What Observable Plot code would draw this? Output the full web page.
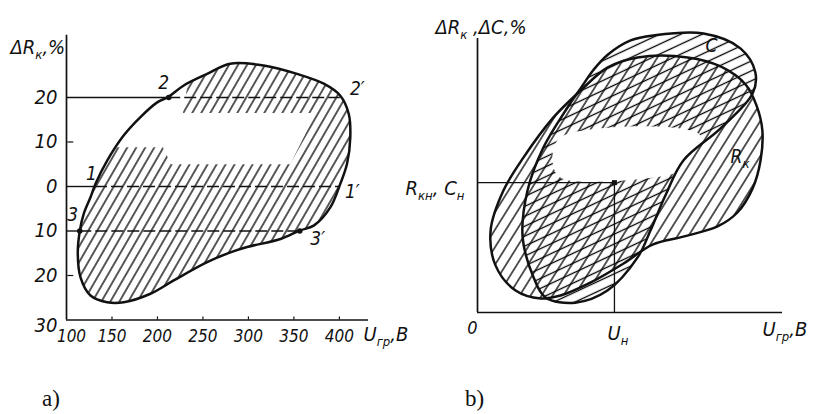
<!DOCTYPE html>
<html><head><meta charset="utf-8">
<script src="https://cdn.jsdelivr.net/npm/d3@7"></script>
<script src="https://cdn.jsdelivr.net/npm/@observablehq/plot@0.6"></script>
<style>
body{margin:0;background:#fff;}
#wrap{position:relative;width:813px;height:414px;overflow:hidden;background:#fff}
#pa{position:absolute;left:0;top:0}
#pb{position:absolute;left:380px;top:0}
.cap{position:absolute;font-family:"Liberation Serif","DejaVu Serif",serif;font-size:23px;color:#111;line-height:1}
</style></head><body>
<div id="wrap"><div id="pa"></div><div id="pb"></div>
<div class="cap" style="left:42px;top:387px">a)</div>
<div class="cap" style="left:465px;top:387px">b)</div></div>
<script>
// ---------------- Panel a data (U_gr, V ; ΔR_k, %) ----------------
const aU = [131.9,144.7,163,181.3,199.7,212.4,228.9,254.6,280,316.8,353.5,382.8,401,410.3,412,408.4,401,390,371.8,356.4,335.2,298.6,280.2,254.6,217.9,192.3,163,144.7,126.4,115.4,112.4,114.6,119,126.4];
const aR = [0.6,5.8,11.5,15.6,18.9,20.2,22.7,25.3,27.6,27.2,25.3,23.1,20.4,16.3,11.1,5.1,0.6,-4.7,-8.8,-9.9,-11.8,-13.6,-14.8,-17,-21.1,-24.1,-26,-26,-24.5,-20.4,-15.1,-10,-6.1,-2.4];
const aHoleU = [105,206,215,346,374,228,234,190,105];
const aHoleR = [8.8,8.8,5,5,16.5,16.5,24,24,16.5];
const levelR = [20, 0, -10];
const levelLeftU = [212.4, 131.9, 114.6];
const levelRightU = [401, 401, 356.4];
const leftNames = ["2", "1", "3"];
const rightNames = ["2′", "1′", "3′"];
const dotU = [212.4, 114.6, 356.4];
const dotR = [20, -10, -10];
const aTicksR = [20, 10, 0, -10, -20, -30];
const aTicksU = [100, 150, 200, 250, 300, 350, 400];
const aXDom = [100, 432];
const aYDom = [-30, 34];

// ---------------- Panel b data (relative units) ----------------
const rkX = [33.8,42.6,52.5,68.9,79.7,87.9,91.5,93.4,92.8,90.2,85.2,78.7,67.5,57.4,47.9,37.0,27.2,20.7,12.5,5.9,4.3,8.5,15.1,24.9];
const rkY = [81.0,89.4,93.1,93.1,89.8,83.2,75.5,66.4,55.5,45.3,36.5,31.4,27.7,24.8,17.9,10.9,6.2,5.1,8.0,17.2,29.9,44.5,56.6,71.2];
const cX = [33.8,38.0,42.6,50.2,57.7,74.1,86.2,91.1,90.2,79.7,67.5,61.6,56.7,52.5,42.6,32.1,22.3,18.4,14.8,16.4,21.6,29.5];
const cY = [81.8,88.5,94.0,99.3,101.1,101.8,96.4,87.6,79.9,67.2,55.5,42.7,29.9,20.1,8.0,3.6,5.5,12.8,27.4,44.5,60.2,74.8];
const bHoleX = [27.2,73.1,65.9,60.0,27.2,24.6];
const bHoleY = [63.9,64.6,51.8,49.6,49.3,55.5];
const nomU = [44.9];
const nomR = [47.4];
const bDom = [0, 100];

// ---------------- styling ----------------
const F = '"Liberation Sans Narrow","DejaVu Sans Condensed","DejaVu Sans",sans-serif';
const ink = "#111";
const T = (data, o) => Plot.text(data, {fontFamily: F, fontStyle: "italic", fill: ink, ...o});

function addPatterns(svg, defs) {
  const d = d3.select(svg).insert("defs", ":first-child");
  for (const p of defs) {
    const pat = d.append("pattern").attr("id", p.id).attr("patternUnits", "userSpaceOnUse")
      .attr("width", p.gap).attr("height", 20).attr("patternTransform", `rotate(${p.rot})`);
    pat.append("line").attr("x1", p.gap / 2).attr("x2", p.gap / 2).attr("y1", -2).attr("y2", 22)
      .attr("stroke", "#000").attr("stroke-width", p.w);
  }
}
// turn "X_{sub}" in text marks into subscript tspans
function richText(svg) {
  d3.select(svg).selectAll("text").each(function() {
    const s = this.textContent;
    if (!s.includes("_{")) return;
    const parts = s.split(/(_\{[^}]*\})/).filter(p => p.length);
    this.textContent = "";
    let down = false;
    for (const p of parts) {
      const isSub = p.startsWith("_{");
      const t = d3.select(this).append("tspan").text(isSub ? p.slice(2, -1) : p);
      if (isSub) { t.attr("font-size", 13); if (!down) t.attr("dy", 5); down = true; }
      else if (down) { t.attr("dy", -5); down = false; }
    }
  });
}

// ---------------- Panel a ----------------
const pa = Plot.plot({
  width: 420, height: 350,
  marginLeft: 66, marginRight: 52, marginTop: 34.7, marginBottom: 30.5,
  x: {domain: aXDom, axis: null},
  y: {domain: aYDom, axis: null},
  style: {background: "white", overflow: "visible"},
  marks: [
    Plot.line(aU, {x: aU, y: aR, curve: "catmull-rom-closed", fill: "url(#hatchA)", stroke: "none"}),
    Plot.line(aHoleU, {x: aHoleU, y: aHoleR, curve: "linear-closed", fill: "white", stroke: "none"}),
    Plot.ruleX([aXDom[0]], {y1: aYDom[0], y2: aYDom[1], stroke: ink, strokeWidth: 1.7}),
    Plot.ruleY([aYDom[0]], {x1: aXDom[0], x2: aXDom[1], stroke: ink, strokeWidth: 1.7}),
    Plot.ruleX(aTicksU.slice(1), {y1: aYDom[0], y2: aYDom[0] + 0.7, stroke: ink, strokeWidth: 1.2}),
    Plot.ruleY(aTicksR.filter(d => !levelR.includes(d) && d !== aYDom[0]), {x1: aXDom[0] + 1.5, x2: aXDom[0] + 8, stroke: ink, strokeWidth: 1.2}),
    Plot.ruleY(levelR, {x1: aXDom[0], x2: levelLeftU, stroke: ink, strokeWidth: 1.4}),
    Plot.ruleY(levelR, {x1: levelLeftU, x2: levelRightU, stroke: ink, strokeWidth: 1.4, strokeDasharray: "12,4"}),
    Plot.line(aU, {x: aU, y: aR, curve: "catmull-rom-closed", stroke: ink, strokeWidth: 2.5}),
    Plot.dot(dotU, {x: dotU, y: dotR, r: 2.8, fill: ink, stroke: "none"}),
    // y tick labels (magnitudes)
    T(aTicksR.filter(d => d !== aYDom[0]), {x: aXDom[0], y: d => d, text: d => String(Math.abs(d)), textAnchor: "end", dx: -9, fontSize: 20}),
    T([aYDom[0]], {x: aXDom[0], y: d => d, text: d => String(Math.abs(d)), textAnchor: "end", dx: -9, dy: 6, fontSize: 20}),
    // x tick labels
    T(aTicksU.slice(1), {x: d => d, y: aYDom[0], text: d => String(d), dy: 17, fontSize: 17}),
    T(aTicksU.slice(0, 1), {x: d => d, y: aYDom[0], text: d => String(d), dx: 5, dy: 17, fontSize: 17}),
    // point labels
    T([0], {x: levelLeftU[0], y: levelR[0], text: () => leftNames[0], dx: -5, dy: -15, fontSize: 19}),
    T([0], {x: levelLeftU[1], y: levelR[1], text: () => leftNames[1], dx: -4, dy: -13, fontSize: 19}),
    T([0], {x: levelLeftU[2], y: levelR[2], text: () => leftNames[2], dx: -7, dy: -16, fontSize: 19}),
    T([0], {x: levelRightU[0], y: levelR[0], text: () => rightNames[0], dx: 17, dy: -9, fontSize: 19}),
    T([0], {x: levelRightU[1], y: levelR[1], text: () => rightNames[1], dx: 12, dy: 5, fontSize: 19}),
    T([0], {x: levelRightU[2], y: levelR[2], text: () => rightNames[2], dx: 18, dy: 8, fontSize: 19}),
    // axis titles
    T(["ΔR_{к},%"], {x: aXDom[0], y: aYDom[1], textAnchor: "start", dx: -56, dy: 12, fontSize: 20}),
    T(["U_{гр},В"], {x: aXDom[1], y: aYDom[0], textAnchor: "start", dx: -5, dy: 15, fontSize: 20})
  ]
});
addPatterns(pa, [{id: "hatchA", gap: 7.8, rot: 30, w: 1.3}]);
richText(pa);
document.getElementById("pa").appendChild(pa);

// ---------------- Panel b ----------------
const pb = Plot.plot({
  width: 433, height: 350,
  marginLeft: 97, marginRight: 31, marginTop: 38, marginBottom: 38,
  x: {domain: bDom, axis: null},
  y: {domain: bDom, axis: null},
  style: {background: "none", overflow: "visible"},
  marks: [
    Plot.line(rkX, {x: rkX, y: rkY, curve: "catmull-rom-closed", fill: "url(#hatchRK)", stroke: "none"}),
    Plot.line(cX, {x: cX, y: cY, curve: "catmull-rom-closed", fill: "url(#hatchC)", stroke: "none"}),
    Plot.line(bHoleX, {x: bHoleX, y: bHoleY, curve: "catmull-rom-closed", fill: "white", stroke: "none"}),
    Plot.ruleX([bDom[0]], {y1: bDom[0], y2: bDom[1], stroke: ink, strokeWidth: 1.7}),
    Plot.ruleY([bDom[0]], {x1: bDom[0], x2: bDom[1], stroke: ink, strokeWidth: 1.7}),
    Plot.ruleY(nomR, {x1: bDom[0], x2: nomU, stroke: ink, strokeWidth: 1.3}),
    Plot.ruleX(nomU, {y1: bDom[0], y2: nomR, stroke: ink, strokeWidth: 1.3}),
    Plot.line(rkX, {x: rkX, y: rkY, curve: "catmull-rom-closed", stroke: ink, strokeWidth: 2.5}),
    Plot.line(cX, {x: cX, y: cY, curve: "catmull-rom-closed", stroke: ink, strokeWidth: 2.5}),
    Plot.dot(nomU, {x: nomU, y: nomR, r: 2.8, symbol: "square", fill: ink, stroke: "none"}),
    // axis titles
    T(["ΔR_{к} ,ΔC,%"], {x: bDom[0], y: bDom[1], textAnchor: "start", dx: -42, dy: -11, fontSize: 20}),
    T(["0"], {x: bDom[0], y: bDom[0], dx: -5, dy: 16, fontSize: 18}),
    T(["U_{н}"], {x: nomU[0], y: bDom[0], textAnchor: "start", dx: -7, dy: 21, fontSize: 20}),
    T(["U_{гр},В"], {x: bDom[1], y: bDom[0], textAnchor: "start", dx: -20, dy: 17, fontSize: 20}),
    T(["R_{кн}, C_{н}"], {x: bDom[0], y: nomR[0], textAnchor: "start", dx: -72, dy: 6, fontSize: 20}),
    // region labels
    T(["C"], {x: cX[6], y: cY[6], dx: -29, dy: -2, fontSize: 19}),
    T(["R_{к}"], {x: rkX[8], y: rkY[8], textAnchor: "start", dx: -30, dy: -4, fontSize: 19})
  ]
});
addPatterns(pb, [
  {id: "hatchRK", gap: 9.3, rot: 32, w: 1.3},
  {id: "hatchC", gap: 9, rot: 65, w: 1.3}
]);
richText(pb);
document.getElementById("pb").appendChild(pb);
</script>
</body></html>
